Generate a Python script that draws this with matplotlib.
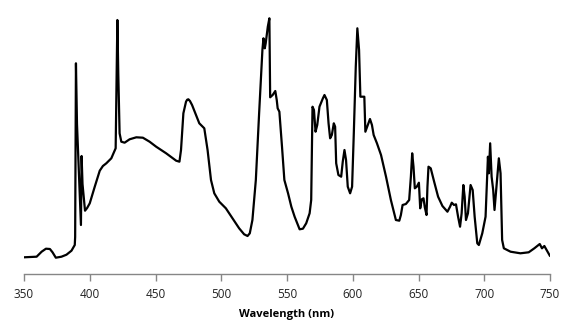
import matplotlib.pyplot as plt

# Spectrum readings (wavelength in nm, relative intensity)
wavelength = [
    350, 359.6, 363.4, 366.7, 369.7, 371.7, 374.2, 378.5, 382.3, 386.1,
    388.6, 388.9, 389.5, 390.3, 393.3, 393.8, 394.5, 396.4, 398.0, 400.0,
    403.8, 407.6, 410.0, 412.6, 416.4, 419.7, 420.5, 421.0, 421.7, 422.7,
    424.0, 426.5, 430.3, 435.4, 440.4, 445.5, 450.5, 458.1, 465.7, 468.2,
    469.4, 471.2, 473.2, 474.1, 475.0, 476.2, 477.8, 480.8, 483.3, 487.1,
    489.6, 492.2, 494.7, 498.5, 503.5, 508.6, 513.6, 517.4, 520.0, 521.7,
    523.7, 526.3, 528.8, 531.3, 532.1, 533.1, 533.8, 535.4, 536.6, 537.2,
    539.1, 541.1, 542.2, 542.9, 544.2, 546.2, 548.0, 550.8, 553.3, 555.8,
    559.6, 562.1, 564.6, 567.2, 568.4, 569.4, 570.5, 571.7, 573.0, 574.7,
    577.3, 578.5, 580.3, 581.6, 582.8, 584.1, 585.6, 586.6, 587.4, 589.1,
    591.2, 592.4, 593.7, 594.9, 596.2, 598.0, 599.5, 600.8, 602.3, 603.5,
    604.8, 605.8, 608.8, 609.6, 611.4, 613.1, 614.6, 615.9, 618.4, 621.5,
    625.3, 629.0, 632.8, 635.4, 636.6, 637.9, 640.4, 642.9, 644.2, 645.2,
    646.2, 647.2, 648.7, 650.3, 651.3, 652.5, 653.8, 654.8, 656.1, 656.8,
    657.6, 659.3, 661.9, 664.9, 668.2, 672.0, 674.0, 675.3, 677.0, 678.5,
    680.1, 681.6, 682.8, 684.1, 685.1, 686.1, 687.6, 689.6, 691.2, 692.7,
    694.7, 695.9, 698.5, 701.0, 702.8, 703.5, 704.5, 705.6, 706.8, 707.8,
    709.3, 711.1, 712.4, 713.6, 714.9, 720.0, 727.5, 733.8, 738.1, 742.2,
    743.9, 745.7, 747.7, 749.5, 750,
]
intensity = [
    16.7, 17.3, 22.3, 25.3, 25.0, 21.7, 16.3, 17.3, 19.3, 23.3,
    29.0, 37.0, 210.7, 150.0, 49.0, 118.0, 90.0, 63.3, 66.0, 70.7,
    87.3, 103.3, 108.0, 110.7, 115.7, 125.7, 200.0, 254.0, 200.0, 140.7,
    132.3, 131.3, 134.7, 136.7, 136.3, 132.3, 127.3, 120.7, 113.3, 112.3,
    124.0, 160.7, 172.3, 174.3, 174.7, 173.0, 169.0, 159.0, 150.7, 145.7,
    124.0, 94.0, 80.7, 72.3, 65.7, 55.7, 45.7, 39.7, 38.0, 40.7,
    54.0, 94.0, 160.7, 224.0, 235.7, 225.7, 230.7, 247.3, 255.7, 176.7,
    179.0, 183.0, 174.0, 165.7, 162.3, 127.3, 94.0, 80.7, 67.3, 57.3,
    44.7, 45.3, 50.7, 60.7, 74.0, 167.3, 164.0, 142.3, 149.0, 167.3,
    175.7, 179.0, 174.0, 150.7, 135.7, 139.0, 150.7, 147.3, 110.7, 99.0,
    97.3, 112.3, 124.0, 114.0, 87.3, 80.7, 87.3, 140.7, 207.3, 245.7,
    224.0, 177.3, 177.3, 142.3, 149.0, 155.0, 149.0, 139.0, 130.7, 119.0,
    97.3, 74.0, 54.0, 53.3, 59.0, 69.0, 70.0, 74.0, 97.3, 120.7,
    107.3, 85.7, 87.3, 91.3, 65.7, 74.7, 75.7, 66.7, 59.0, 87.3,
    107.3, 105.7, 92.3, 77.3, 68.0, 62.3, 67.3, 71.3, 69.0, 69.7,
    57.3, 47.3, 60.7, 89.0, 77.3, 54.0, 60.7, 89.0, 84.0, 57.3,
    30.7, 29.0, 40.7, 57.3, 117.3, 100.7, 130.7, 97.3, 84.0, 64.0,
    87.3, 115.7, 100.7, 34.0, 25.7, 22.3, 20.7, 21.7, 25.7, 30.0,
    25.7, 28.0, 23.3, 19.0, 18.0,
]
x_ticks = [350, 400, 450, 500, 550, 600, 650, 700, 750]

fig = plt.figure(figsize=(5.75, 3.36), dpi=100)
ax = fig.add_axes([24 / 575, 62 / 336, 526 / 575, 264 / 336])

ax.plot(wavelength, intensity, color="black", linewidth=1.6,
        solid_joinstyle="round", solid_capstyle="round")

ax.set_xlim(350, 750)
ax.set_ylim(0, 264)
ax.set_xticks(x_ticks)
ax.set_yticks([])

for side in ["top", "right", "left"]:
    ax.spines[side].set_visible(False)
ax.spines["bottom"].set_color("#868686")
ax.spines["bottom"].set_linewidth(1.0)
ax.tick_params(axis="x", direction="out", length=5, width=1.0, color="#868686",
               labelsize=8.5, labelcolor="#222222", pad=5)
for lab in ax.get_xticklabels():
    lab.set_family("Open Sans")

ax.set_xlabel("Wavelength (nm)", fontsize=8, fontweight="bold", family="Open Sans",
              labelpad=6)

fig.savefig("out.png", dpi=100)
